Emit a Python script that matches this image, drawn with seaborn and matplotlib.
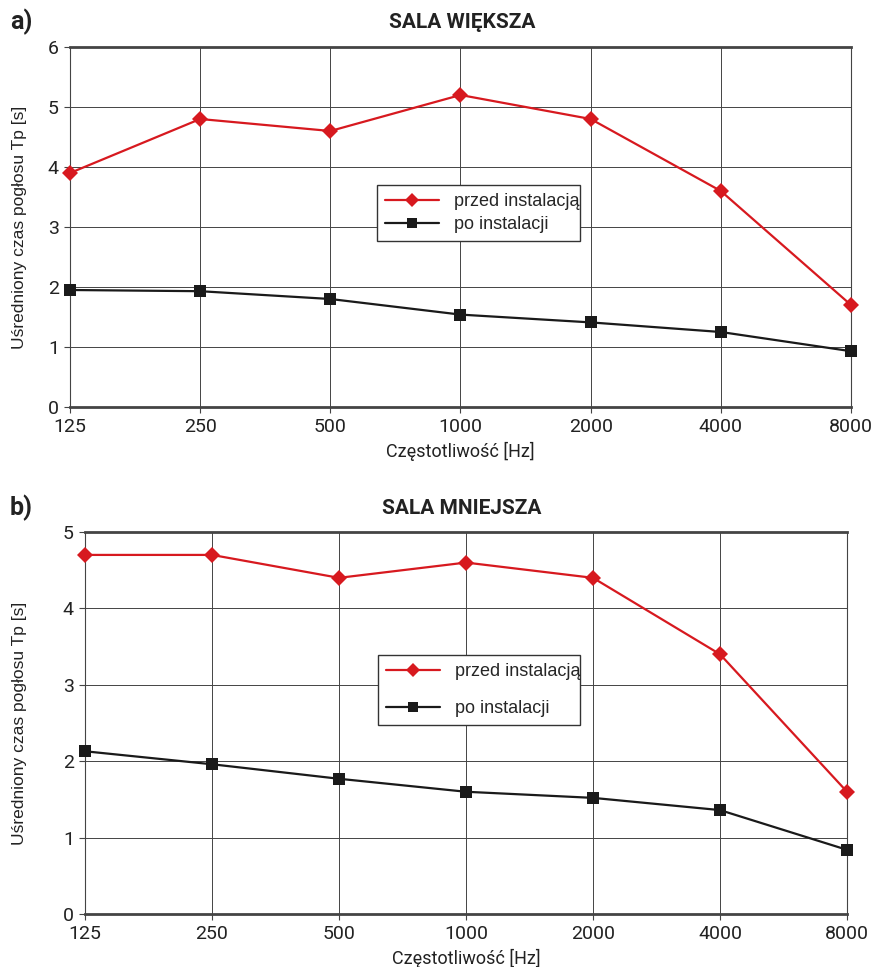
import matplotlib
matplotlib.use("Agg")
import matplotlib.pyplot as plt
import seaborn as sns
import pandas as pd

freqs = ["125", "250", "500", "1000", "2000", "4000", "8000"]
big_before = [3.9, 4.8, 4.6, 5.2, 4.8, 3.6, 1.7]
big_after = [1.95, 1.93, 1.80, 1.54, 1.41, 1.25, 0.93]
small_before = [4.7, 4.7, 4.4, 4.6, 4.4, 3.4, 1.6]
small_after = [2.13, 1.96, 1.77, 1.60, 1.52, 1.36, 0.84]
series_names = ["przed instalacją", "po instalacji"]
titles = ["SALA WIĘKSZA", "SALA MNIEJSZA"]
panel_labels = ["a)", "b)"]

sns.set_theme(style="white")
narrow = ["Liberation Sans Narrow", "Roboto", "DejaVu Sans"]
plt.rcParams["font.family"] = ["Liberation Sans", "DejaVu Sans"]

W, H = 879, 967
fig = plt.figure(figsize=(W / 100, H / 100), dpi=100)

def ax_rect(l, r, t, b):
    return [l / W, 1 - b / H, (r - l) / W, (b - t) / H]

configs = [
    dict(rect=ax_rect(70, 851, 47, 407), before=big_before, after=big_after,
         ymax=6, legend=((377, 183), (580, 243)), title_y=22, label_y=22,
         spacing=0.35),
    dict(rect=ax_rect(85, 847, 532, 914), before=small_before, after=small_after,
         ymax=5, legend=((378, 660), (580, 720)), title_y=508, label_y=508,
         spacing=1.1),
]

red = "#d7191f"
black = "#1a1a1a"

for i, c in enumerate(configs):
    ax = fig.add_axes(c["rect"])
    df = pd.DataFrame({
        "x": list(range(len(freqs))) * 2,
        "y": c["before"] + c["after"],
        "s": [series_names[0]] * len(freqs) + [series_names[1]] * len(freqs),
    })
    sns.lineplot(data=df, x="x", y="y", hue="s", style="s",
                 palette=[red, black], markers=["D", "s"], dashes=False,
                 markersize=8, linewidth=1.6, markeredgewidth=0, ax=ax,
                 legend=False, clip_on=False, zorder=5)
    ax.set_xlim(0, len(freqs) - 1)
    ax.set_ylim(0, c["ymax"])
    ax.set_xticks(range(len(freqs)))
    ax.set_xticklabels(freqs)
    ax.set_yticks(range(0, c["ymax"] + 1))
    ax.grid(True, color="#444444", linewidth=0.7)
    ax.set_axisbelow(True)
    for s in ["top", "bottom"]:
        ax.spines[s].set_linewidth(2.0)
        ax.spines[s].set_color("#444444")
    for s in ["left", "right"]:
        ax.spines[s].set_linewidth(0.8)
        ax.spines[s].set_color("#444444")
    ax.tick_params(axis="both", which="both", length=4, width=0.8,
                   color="#444444", labelsize=13, pad=4, direction="out",
                   bottom=True, left=True)
    for lab in ax.get_xticklabels() + ax.get_yticklabels():
        lab.set_family(narrow)
        lab.set_fontsize(14)
        lab.set_color("#222222")
    ax.set_xlabel("Częstotliwość [Hz]", family=narrow, fontsize=13,
                  color="#222222", labelpad=4)
    ax.set_ylabel("Uśredniony czas pogłosu Tp [s]", fontsize=12.5,
                  color="#222222")
    ax.yaxis.set_label_coords(-(c["rect"][0] * W - 27) / (c["rect"][2] * W), 0.5)
    fig.text(462 / W, 1 - c["title_y"] / H, titles[i], family=narrow,
             fontsize=15, fontweight="bold", ha="center", va="center",
             color="#222222")
    fig.text(10 / W, 1 - c["label_y"] / H, panel_labels[i], family=narrow,
             fontsize=18, fontweight="bold", ha="left", va="center",
             color="#222222")
    (lx0, ly0), (lx1, ly1) = c["legend"]
    handles = ax.get_lines()[:2]
    ax_l, ax_b, ax_w, ax_h = c["rect"]
    bx = (lx0 / W - ax_l) / ax_w
    by = ((1 - ly1 / H) - ax_b) / ax_h
    bw = (lx1 - lx0) / W / ax_w
    bh = (ly1 - ly0) / H / ax_h
    leg = ax.legend(handles, series_names, loc="center",
                    bbox_to_anchor=(bx, by, bw, bh), mode="expand",
                    borderaxespad=0, frameon=True, fancybox=False, fontsize=13,
                    handlelength=3.0, borderpad=0.45, labelspacing=c["spacing"],
                    edgecolor="#333333", markerscale=0.9)
    leg.get_frame().set_linewidth(1.0)
    leg.get_frame().set_facecolor("white")
    leg.get_frame().set_alpha(1)
    leg.set_zorder(10)

fig.savefig("out.png", dpi=100, facecolor="white")
